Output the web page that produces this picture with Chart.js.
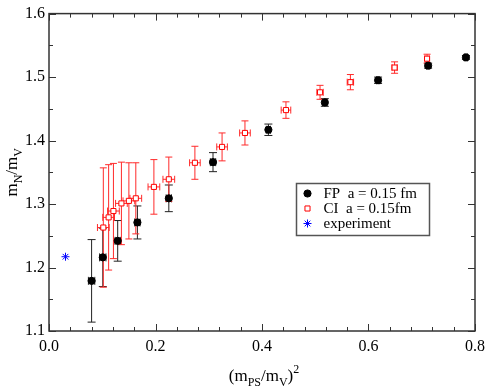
<!DOCTYPE html>
<html>
<head>
<meta charset="utf-8">
<script src="https://cdn.jsdelivr.net/npm/chart.js@4.4.1/dist/chart.umd.min.js"></script>
<style>
  html, body { margin: 0; padding: 0; background: #fff; }
</style>
</head>
<body>
<canvas id="c" width="491" height="387"></canvas>
<script>
const xTicks = [0.0, 0.2, 0.4, 0.6, 0.8];
const yTicks = [1.1, 1.2, 1.3, 1.4, 1.5, 1.6];

// FP a = 0.15 fm
const fpX = [0.080, 0.101, 0.129, 0.166, 0.225, 0.308, 0.412, 0.518, 0.618, 0.712, 0.783];
const fpY = [1.179, 1.216, 1.242, 1.271, 1.309, 1.366, 1.417, 1.460, 1.495, 1.518, 1.531];
const fpErrY = [0.065, 0.046, 0.032, 0.026, 0.021, 0.015, 0.009, 0.006, 0.005, 0.004, 0.003];
const fpErrX = [0.006, 0.006, 0.005, 0.005, 0.005, 0.005, 0.004, 0.004, 0.003, 0.003, 0.003];

// CI a = 0.15fm
const ciX = [0.102, 0.112, 0.121, 0.136, 0.150, 0.163, 0.197, 0.225, 0.274, 0.325, 0.368, 0.445, 0.509, 0.566, 0.649, 0.710];
const ciY = [1.263, 1.279, 1.289, 1.301, 1.305, 1.309, 1.327, 1.339, 1.365, 1.390, 1.412, 1.448, 1.476, 1.492, 1.515, 1.529];
const ciErrY = [0.094, 0.083, 0.075, 0.065, 0.060, 0.056, 0.043, 0.035, 0.026, 0.022, 0.019, 0.013, 0.011, 0.012, 0.009, 0.007];
const ciErrX = [0.011, 0.011, 0.011, 0.011, 0.011, 0.011, 0.011, 0.011, 0.010, 0.010, 0.010, 0.009, 0.006, 0.006, 0.005, 0.004];

// experiment
const expX = [0.031];
const expY = [1.217];

const SERIF = '"Liberation Serif", "DejaVu Serif", serif';

function toPoints(xs, ys) {
  return xs.map((x, i) => ({ x, y: ys[i] }));
}

// error bars drawn under the markers, through the chart's own scales
const errorBarPlugin = {
  id: "errorBars",
  beforeDatasetsDraw(chart) {
    const { ctx, scales: { x: sx, y: sy } } = chart;
    chart.data.datasets.forEach((ds) => {
      const eb = ds.errorBars;
      if (!eb) {
        return;
      }
      ctx.save();
      ctx.strokeStyle = eb.color;
      ctx.lineWidth = 1;
      ds.data.forEach((p, i) => {
        const px = sx.getPixelForValue(p.x);
        const py = sy.getPixelForValue(p.y);
        const yTop = sy.getPixelForValue(p.y + eb.y[i]);
        const yBot = sy.getPixelForValue(p.y - eb.y[i]);
        const xL = sx.getPixelForValue(p.x - eb.x[i]);
        const xR = sx.getPixelForValue(p.x + eb.x[i]);
        const c = eb.cap;
        ctx.beginPath();
        ctx.moveTo(px, yTop); ctx.lineTo(px, yBot);
        ctx.moveTo(px - c, yTop); ctx.lineTo(px + c, yTop);
        ctx.moveTo(px - c, yBot); ctx.lineTo(px + c, yBot);
        ctx.moveTo(xL, py); ctx.lineTo(xR, py);
        ctx.moveTo(xL, py - c); ctx.lineTo(xL, py + c);
        ctx.moveTo(xR, py - c); ctx.lineTo(xR, py + c);
        ctx.stroke();
      });
      ctx.restore();
    });
  },
};

// frame with inward ticks on all four sides
const framePlugin = {
  id: "frame",
  afterDraw(chart) {
    const { ctx, chartArea: a, scales: { x: sx, y: sy } } = chart;
    ctx.save();
    ctx.strokeStyle = "#333";
    ctx.lineWidth = 1.5;
    ctx.strokeRect(a.left, a.top, a.right - a.left, a.bottom - a.top);
    ctx.lineWidth = 1;
    ctx.beginPath();
    for (let v = 0; v <= 0.8001; v += 0.04) {
      const px = Math.round(sx.getPixelForValue(v)) + 0.5;
      const major = Math.abs(v / 0.2 - Math.round(v / 0.2)) < 1e-6;
      const len = major ? 7 : 4;
      ctx.moveTo(px, a.bottom); ctx.lineTo(px, a.bottom - len);
      ctx.moveTo(px, a.top); ctx.lineTo(px, a.top + len);
    }
    for (let v = 1.1; v <= 1.6001; v += 0.05) {
      const py = Math.round(sy.getPixelForValue(v)) + 0.5;
      const major = Math.abs(v / 0.1 - Math.round(v / 0.1)) < 1e-6;
      const len = major ? 7 : 4;
      ctx.moveTo(a.left, py); ctx.lineTo(a.left + len, py);
      ctx.moveTo(a.right, py); ctx.lineTo(a.right - len, py);
    }
    ctx.stroke();
    ctx.restore();
  },
};

function drawRich(ctx, parts, x, y, size) {
  // parts: [text, kind] kind: "n" normal, "sub", "sup"
  let cx = x;
  parts.forEach(([t, kind]) => {
    const fs = kind === "n" ? size : Math.round(size * 0.7);
    const dy = kind === "sub" ? size * 0.3 : kind === "sup" ? -size * 0.45 : 0;
    ctx.font = `${fs}px ${SERIF}`;
    ctx.fillText(t, cx, y + dy);
    cx += ctx.measureText(t).width;
  });
}

function richWidth(ctx, parts, size) {
  let w = 0;
  parts.forEach(([t, kind]) => {
    const fs = kind === "n" ? size : Math.round(size * 0.7);
    ctx.font = `${fs}px ${SERIF}`;
    w += ctx.measureText(t).width;
  });
  return w;
}

const titlesPlugin = {
  id: "axisTitles",
  afterDraw(chart) {
    const { ctx, chartArea: a } = chart;
    ctx.save();
    ctx.fillStyle = "#000";
    ctx.textBaseline = "alphabetic";
    ctx.textAlign = "left";
    const xParts = [["(m", "n"], ["PS", "sub"], ["/m", "n"], ["V", "sub"], [")", "n"], ["2", "sup"]];
    const xw = richWidth(ctx, xParts, 17);
    drawRich(ctx, xParts, (a.left + a.right) / 2 - xw / 2 + 2, 381, 17);

    const yParts = [["m", "n"], ["N", "sub"], ["/m", "n"], ["V", "sub"]];
    const yw = richWidth(ctx, yParts, 17);
    ctx.translate(17, (a.top + a.bottom) / 2);
    ctx.rotate(-Math.PI / 2);
    drawRich(ctx, yParts, -yw / 2, 0, 17);
    ctx.restore();
  },
};

const legendPlugin = {
  id: "boxLegend",
  afterDraw(chart) {
    const { ctx } = chart;
    const bx = 296.5, by = 183.5, bw = 133, bh = 52;
    ctx.save();
    ctx.fillStyle = "#fff";
    ctx.fillRect(bx, by, bw, bh);
    ctx.strokeStyle = "#555";
    ctx.lineWidth = 1.5;
    ctx.strokeRect(bx, by, bw, bh);
    ctx.font = `15px ${SERIF}`;
    ctx.textBaseline = "middle";
    ctx.textAlign = "left";
    chart.data.datasets.forEach((ds, i) => {
      const my = by + 10 + i * 15;
      const mx = bx + 11;
      const o = {
        pointStyle: ds.pointStyle,
        radius: ds.pointRadius,
        borderWidth: ds.pointBorderWidth,
        rotation: 0,
      };
      ctx.fillStyle = ds.pointBackgroundColor;
      ctx.strokeStyle = ds.pointBorderColor;
      ctx.lineWidth = ds.pointBorderWidth;
      Chart.helpers.drawPoint(ctx, o, mx, my);
      ctx.fillStyle = "#000";
      ctx.fillText(ds.label, bx + 27, my + 1);
    });
    ctx.restore();
  },
};

new Chart(document.getElementById("c"), {
  type: "scatter",
  data: {
    datasets: [
      {
        label: "FP  a = 0.15 fm",
        data: toPoints(fpX, fpY),
        pointStyle: "circle",
        pointRadius: 3.6,
        pointBackgroundColor: "#000",
        pointBorderColor: "#000",
        pointBorderWidth: 1,
        errorBars: { x: fpErrX, y: fpErrY, cap: 4, color: "#222" },
      },
      {
        label: "CI  a = 0.15fm",
        data: toPoints(ciX, ciY),
        pointStyle: "rect",
        pointRadius: 3.6,
        pointBackgroundColor: "#fff",
        pointBorderColor: "#ff0000",
        pointBorderWidth: 1,
        errorBars: { x: ciErrX, y: ciErrY, cap: 3.5, color: "#ff2a2a" },
      },
      {
        label: "experiment",
        data: toPoints(expX, expY),
        pointStyle: "star",
        pointRadius: 4,
        pointBackgroundColor: "#0000ff",
        pointBorderColor: "#0000ff",
        pointBorderWidth: 1,
      },
    ],
  },
  options: {
    responsive: false,
    animation: false,
    layout: { padding: { top: 6.5, right: 10.5, left: 0, bottom: 0 } },
    scales: {
      x: {
        type: "linear",
        min: 0,
        max: 0.8,
        afterBuildTicks(scale) {
          scale.ticks = xTicks.map((v) => ({ value: v }));
        },
        afterFit(scale) {
          scale.height = 56;
        },
        ticks: {
          color: "#000",
          padding: 6,
          font: { family: SERIF, size: 16 },
          callback: (v) => Number(v).toFixed(1),
        },
        grid: { display: false, drawTicks: false },
        border: { display: false },
      },
      y: {
        type: "linear",
        min: 1.1,
        max: 1.6,
        afterBuildTicks(scale) {
          scale.ticks = yTicks.map((v) => ({ value: v }));
        },
        afterFit(scale) {
          scale.width = 49;
        },
        ticks: {
          color: "#000",
          padding: 4,
          font: { family: SERIF, size: 16 },
          callback: (v) => Number(v).toFixed(1),
        },
        grid: { display: false, drawTicks: false },
        border: { display: false },
      },
    },
    plugins: {
      legend: { display: false },
      tooltip: { enabled: false },
    },
  },
  plugins: [errorBarPlugin, framePlugin, titlesPlugin, legendPlugin],
});
</script>
</body>
</html>
